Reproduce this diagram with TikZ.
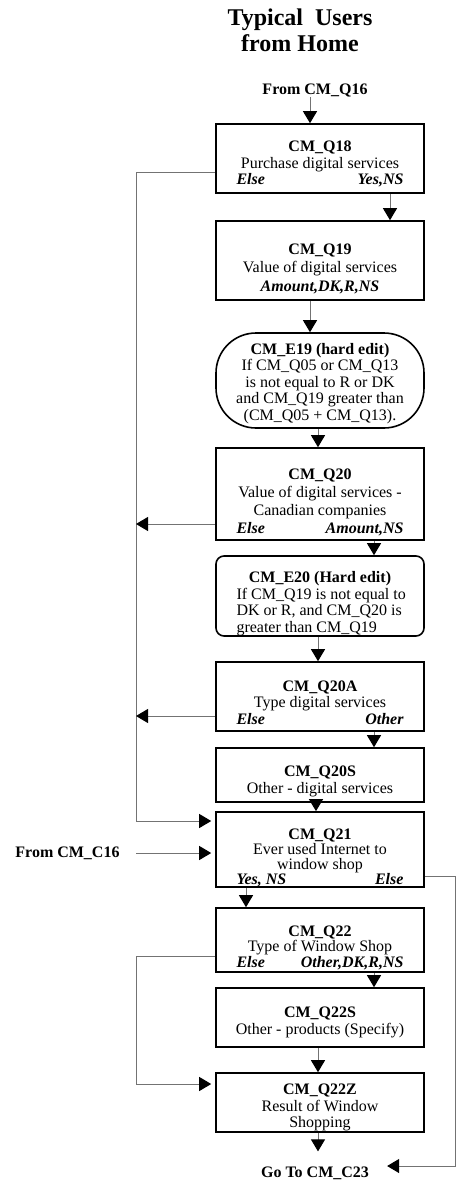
\documentclass[tikz,border=0pt]{standalone}
\usepackage{fontspec}
\setmainfont{Liberation Serif}
\usetikzlibrary{arrows.meta,positioning}

\newcommand{\qtext}[2][10pt]{\parbox{186pt}{\centering\vspace*{#1}#2}\hspace{10pt}}
\newcommand{\brlab}[2]{\makebox[167pt]{\bfseries\itshape #1\hfill #2}}
\newcommand{\lline}[1]{\makebox[167pt][l]{#1}}

\tikzset{
  qbox/.style={draw, line width=1.6pt, minimum width=208pt, inner sep=0pt, font=\fontsize{16}{16.5}\selectfont},
  ebox/.style={qbox, rounded corners=8pt},
  tag/.style={inner sep=0pt, font=\fontsize{16}{18}\selectfont\bfseries},
  flow/.style={draw=black!55, line width=1pt, -{Triangle[length=12pt,width=14pt,color=black]}}
}

\begin{document}
\begin{tikzpicture}
\useasboundingbox (0,0) rectangle (456pt,-1183pt);
\coordinate (left bus) at (136pt,0);
\coordinate (right bus) at (455pt,0);

\node (title) [align=center, font=\fontsize{24}{26}\selectfont\bfseries] at (300pt,-30pt) {Typical\ \ Users\\from Home};
\node (from q16) [tag] at (315pt,-90pt) {From CM\_Q16};
\node (from c16) [tag] at (67.5pt,-853pt) {From CM\_C16};
\node (go to) [tag] at (315pt,-1173pt) {Go To CM\_C23};

\node (q18) [qbox, minimum height=69pt] at (320pt,-158.5pt) {\qtext[11pt]{{\bfseries CM\_Q18}\\Purchase digital services\\\brlab{Else}{Yes,NS}}};
\node (q19) [qbox, font=\fontsize{16}{18.5}\selectfont, minimum height=79pt, node distance=102pt, below of=q18] {\qtext[16pt]{{\bfseries CM\_Q19}\\Value of digital services\\{\bfseries\itshape Amount,DK,R,NS}}};
\node (e19) [qbox, rounded corners=40pt, minimum height=95pt, node distance=120pt, below of=q19] {\qtext[6pt]{{\bfseries CM\_E19 (hard edit)}\\If CM\_Q05 or CM\_Q13\\is not equal to R or DK\\and CM\_Q19 greater than\\(CM\_Q05 + CM\_Q13).}};
\node (q20) [qbox, font=\fontsize{16}{18}\selectfont, minimum height=92pt, node distance=113.5pt, below of=e19] {\qtext[17pt]{{\bfseries CM\_Q20}\\Value of digital services -\\Canadian companies\\\brlab{Else}{Amount,NS}}};
\node (e20) [ebox, minimum height=80pt, node distance=102pt, below of=q20] {\qtext[15pt]{{\bfseries CM\_E20 (Hard edit)}\\\lline{If CM\_Q19 is not equal to}\\\lline{DK or R, and CM\_Q20 is}\\\lline{greater than CM\_Q19}}};
\node (q20a) [qbox, minimum height=69pt, node distance=100.5pt, below of=e20] {\qtext[12pt]{{\bfseries CM\_Q20A}\\Type digital services\\\brlab{Else}{Other}}};
\node (q20s) [qbox, minimum height=54pt, node distance=78.5pt, below of=q20a] {\qtext[13pt]{{\bfseries CM\_Q20S}\\Other - digital services}};
\node (q21) [qbox, font=\fontsize{16}{15}\selectfont, minimum height=75pt, node distance=74.5pt, below of=q20s] {\qtext[17pt]{{\bfseries CM\_Q21}\\Ever used Internet to\\window shop\\\brlab{Yes, NS}{Else}}};
\node (q22) [qbox, font=\fontsize{16}{15.5}\selectfont, minimum height=64pt, node distance=90.5pt, below of=q21] {\qtext[15pt]{{\bfseries CM\_Q22}\\Type of Window Shop\\\brlab{Else}{Other,DK,R,NS}}};
\node (q22s) [qbox, minimum height=59pt, node distance=77.5pt, below of=q22] {\qtext[10pt]{{\bfseries CM\_Q22S}\\Other - products (Specify)}};
\node (q22z) [qbox, minimum height=59pt, node distance=85pt, below of=q22s] {\qtext[10pt]{{\bfseries CM\_Q22Z}\\Result of Window\\Shopping}};

\draw [flow] ([xshift=-5pt]from q16.south) -- ([xshift=-10pt]q18.north);
\draw [flow] ([xshift=70pt]q18.south) -- ([xshift=70pt]q19.north);
\draw [flow] ([xshift=-10pt]q19.south) -- ([xshift=-10pt]e19.north);
\draw [flow] ([xshift=-2pt]e19.south) -- ([xshift=-2pt]q20.north);
\draw [flow] ([xshift=54pt]q20.south) -- ([xshift=54pt]e20.north);
\draw [flow] ([xshift=-2pt]e20.south) -- ([xshift=-2pt]q20a.north);
\draw [flow] ([xshift=54pt]q20a.south) -- ([xshift=54pt]q20s.north);
\draw [flow] ([xshift=-4pt]q20s.south) -- ([xshift=-4pt]q21.north);
\draw [flow] ([xshift=-74pt]q21.south) -- ([xshift=-74pt]q22.north);
\draw [flow] ([xshift=54pt]q22.south) -- ([xshift=54pt]q22s.north);
\draw [flow] ([xshift=-2pt]q22s.south) -- ([xshift=-2pt]q22z.north);
\draw [flow, shorten >=15pt] ([xshift=-2pt]q22z.south) -- ([xshift=3pt]go to.north);

\draw [flow, shorten >=4pt] ([yshift=-13.5pt]q18.west) -| ([yshift=28.5pt]left bus |- q21.west) -- ([yshift=28.5pt]q21.west);
\draw [flow] ([yshift=-30pt]q20.west) -- ([yshift=-30pt]q20.west -| left bus);
\draw [flow] ([yshift=-19.5pt]q20a.west) -- ([yshift=-19.5pt]q20a.west -| left bus);
\draw [flow, shorten >=4pt] (from c16.east -| left bus) -- (from c16.east -| q21.west);
\draw [flow, shorten >=18pt] ([yshift=-26.5pt]q21.east) -| ([yshift=7pt]right bus |- go to.east) -- ([yshift=7pt]go to.east);
\draw [flow, shorten >=4pt] ([yshift=-16pt]q22.west) -| ([yshift=18.5pt]left bus |- q22z.west) -- ([yshift=18.5pt]q22z.west);
\end{tikzpicture}
\end{document}
